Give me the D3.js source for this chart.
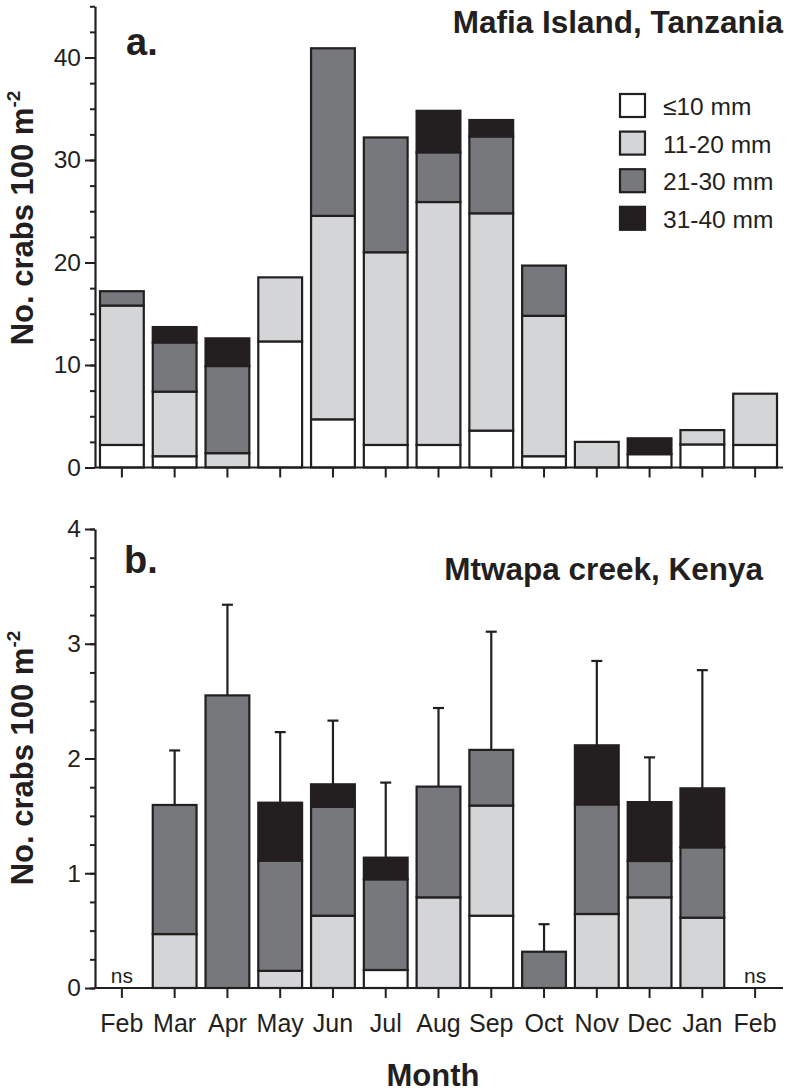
<!DOCTYPE html>
<html><head><meta charset="utf-8">
<script src="https://cdn.jsdelivr.net/npm/d3@7"></script>
<style>
html,body{margin:0;padding:0;background:#fff;}
svg{display:block;font-family:"Liberation Sans",Arial,Helvetica,sans-serif;}
</style></head><body>
<svg id="chart" width="789" height="1092"></svg>
<script>
// ---------- data ----------
const months = ["Feb","Mar","Apr","May","Jun","Jul","Aug","Sep","Oct","Nov","Dec","Jan","Feb"];
const sizeClasses = ["≤10 mm","11-20 mm","21-30 mm","31-40 mm"];

// Panel a: Mafia Island, Tanzania
const a_le10  = [2.2, 1.1, 0,   12.3, 4.7,   2.2,  2.2,  3.6,  1.1,  0,   1.3,  2.25, 2.2];
const a_11_20 = [13.6,6.3, 1.4, 6.25, 19.85, 18.8, 23.7, 21.2, 13.7, 2.5, 0,    1.4,  5.0];
const a_21_30 = [1.4, 4.8, 8.5, 0,    16.35, 11.2, 4.85, 7.5,  4.9,  0,   0,    0,    0];
const a_31_40 = [0,   1.5, 2.7, 0,    0,     0,    4.05, 1.6,  0,    0,   1.55, 0,    0];

// Panel b: Mtwapa creek, Kenya
const b_le10  = [0, 0,     0,    0,     0,    0.157, 0,     0.63,  0,     0,     0,     0,     0];
const b_11_20 = [0, 0.47,  0,    0.15,  0.63, 0,     0.79,  0.96,  0,     0.645, 0.79,  0.613, 0];
const b_21_30 = [0, 1.125, 2.55, 0.96,  0.95, 0.79,  0.965, 0.485, 0.316, 0.955, 0.317, 0.613, 0];
const b_31_40 = [0, 0,     0,    0.505, 0.195,0.189, 0,     0,     0,     0.515, 0.513, 0.514, 0];
const b_se    = [null, 0.475, 0.79, 0.615, 0.555, 0.654, 0.685, 1.03, 0.24, 0.735, 0.39, 1.03, null];
const b_ns    = [true, false,false,false,false,false,false,false,false,false,false,false,true];

const aTicks = [0,10,20,30,40];
const bTicks = [0,1,2,3,4];

// ---------- styles ----------
const fills = ["#ffffff","#d4d5d7","#77787b","#231f20"];
const ink = "#231f20";

const svg = d3.select("#chart");
const keys = ["c0","c1","c2","c3"];
const idx = months.map((m,i)=>i);

const x = d3.scaleBand().domain(idx).range([95.5,781.5]).paddingInner(0.17).paddingOuter(0.085);

function buildRows(s0,s1,s2,s3){
  return idx.map(i=>({i, c0:s0[i], c1:s1[i], c2:s2[i], c3:s3[i]}));
}

function panel(rows, y, majors, minorStep, showLabels){
  const g = svg.append("g");
  const stack = d3.stack().keys(keys)(rows);
  stack.forEach((layer,k)=>{
    g.append("g").selectAll("rect")
      .data(layer.filter(d=>d[1]-d[0]>0))
      .join("rect")
      .attr("x", d=>x(d.data.i))
      .attr("width", x.bandwidth())
      .attr("y", d=>y(d[1]))
      .attr("height", d=>y(d[0])-y(d[1]))
      .attr("fill", fills[k])
      .attr("stroke", ink)
      .attr("stroke-width", 2.2);
  });
  const [d0,d1] = y.domain();
  const minors = d3.range(d0, d1+1e-9, minorStep);
  const ym = g.append("g").attr("transform","translate(95,0)")
    .call(d3.axisLeft(y).tickValues(minors).tickSize(5).tickSizeOuter(0).tickFormat(""));
  ym.select(".domain").remove();
  const ya = g.append("g").attr("transform","translate(95,0)")
    .call(d3.axisLeft(y).tickValues(majors).tickSize(10).tickSizeOuter(0).tickPadding(4).tickFormat(d3.format("d")));
  ya.selectAll("text").attr("font-size",24.5).attr("fill",ink).attr("font-family","Liberation Sans, Arial, sans-serif");
  const xa = g.append("g").attr("transform",`translate(0,${y(0)})`)
    .call(d3.axisBottom(x).tickSize(10).tickSizeOuter(0).tickPadding(16)
      .tickFormat(showLabels ? (i=>months[i]) : ""));
  xa.select(".domain").attr("d", `M95,0H783`);
  xa.selectAll("text").attr("font-size",25).attr("fill",ink).attr("font-family","Liberation Sans, Arial, sans-serif");
  [ym,ya,xa].forEach(a=>{
    a.selectAll("line").attr("stroke",ink).attr("stroke-width",2);
    a.selectAll(".domain").attr("stroke",ink).attr("stroke-width",2.2);
  });
  return g;
}

// ---------- panel a ----------
const ya = d3.scaleLinear().domain([0,45]).range([467.5, 467.5-45*10.25]);
panel(buildRows(a_le10,a_11_20,a_21_30,a_31_40), ya, aTicks, 2.5, false);

// ---------- panel b ----------
const yb = d3.scaleLinear().domain([0,4]).range([988, 529]);
const rowsB = buildRows(b_le10,b_11_20,b_21_30,b_31_40);
panel(rowsB, yb, bTicks, 0.25, true);

// error bars
const errData = idx.filter(i=>b_se[i]!=null).map(i=>{
  const tot = b_le10[i]+b_11_20[i]+b_21_30[i]+b_31_40[i];
  return {i, tot, top: tot + b_se[i]};
});
const eg = svg.append("g").attr("stroke",ink).attr("stroke-width",2.2);
eg.selectAll("line.v").data(errData).join("line").attr("class","v")
  .attr("x1",d=>x(d.i)+x.bandwidth()/2).attr("x2",d=>x(d.i)+x.bandwidth()/2)
  .attr("y1",d=>yb(d.tot)).attr("y2",d=>yb(d.top));
eg.selectAll("line.c").data(errData).join("line").attr("class","c")
  .attr("x1",d=>x(d.i)+x.bandwidth()/2-5.5).attr("x2",d=>x(d.i)+x.bandwidth()/2+5.5)
  .attr("y1",d=>yb(d.top)).attr("y2",d=>yb(d.top));

// ns labels
svg.append("g").selectAll("text").data(idx.filter(i=>b_ns[i])).join("text")
  .attr("x",i=>x(i)+x.bandwidth()/2).attr("y",983)
  .attr("text-anchor","middle").attr("font-size",21).attr("fill",ink).text("ns");

// ---------- titles ----------
function boldText(t,xx,yy,size,anchor){
  svg.append("text").attr("x",xx).attr("y",yy).attr("font-size",size)
    .attr("font-weight","bold").attr("fill",ink).attr("text-anchor",anchor||"start").text(t);
}
boldText("a.",126,55,38);
boldText("b.",124,573,38);
boldText("Mafia Island, Tanzania",783,33,31.5,"end");
boldText("Mtwapa creek, Kenya",763,580,31.5,"end");
boldText("Month",433,1086,31,"middle");

function yTitle(cy){
  const t = svg.append("text").attr("transform",`translate(33,${cy}) rotate(-90)`)
    .attr("text-anchor","middle").attr("font-weight","bold").attr("font-size",31).attr("fill",ink);
  t.append("tspan").text("No. crabs 100 m");
  t.append("tspan").attr("font-size",19).attr("dy",-13).text("-2");
}
yTitle(218);
yTitle(758);

// ---------- legend ----------
const lg = svg.append("g").attr("transform","translate(619,93)");
const li = lg.selectAll("g").data(sizeClasses).join("g")
  .attr("transform",(d,i)=>`translate(0,${i*37.6})`);
li.append("rect").attr("x",1).attr("y",1).attr("width",25).attr("height",23)
  .attr("fill",(d,i)=>fills[i]).attr("stroke",ink).attr("stroke-width",2.2);
li.append("text").attr("x",44).attr("y",22).attr("font-size",24.5).attr("fill",ink).text(d=>d);
</script>
</body></html>
